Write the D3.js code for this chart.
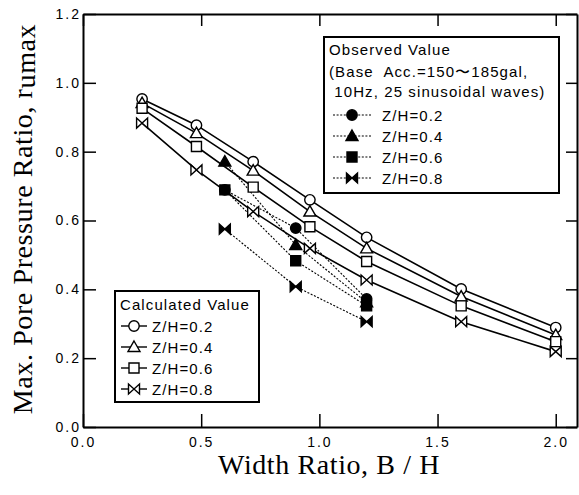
<!DOCTYPE html>
<meta charset="utf-8">
<style>
  body { margin: 0; background: #fff; }
  .tick text { font-family: "Liberation Sans", Arial, sans-serif; font-size: 14px; letter-spacing: 2px; }
  .lg { font-family: "Liberation Sans", Arial, sans-serif; font-size: 15px; letter-spacing: 1.1px; white-space: pre; }
  .title { font-family: "Liberation Serif", "Times New Roman", serif; font-size: 28px; letter-spacing: 0.6px; }
</style>
<body>
<div id="chart"></div>
<script src="https://d3js.org/d3.v7.min.js"></script>
<script>
// calculated values (solid lines, open markers)
var calcX = [0.25, 0.48, 0.72, 0.96, 1.2, 1.6, 2.0];
var calc02 = [0.953, 0.877, 0.771, 0.660, 0.551, 0.401, 0.289];
var calc04 = [0.941, 0.854, 0.745, 0.626, 0.519, 0.379, 0.267];
var calc06 = [0.926, 0.815, 0.697, 0.582, 0.481, 0.352, 0.248];
var calc08 = [0.883, 0.747, 0.626, 0.519, 0.427, 0.306, 0.219];

// observed values (dotted lines, filled markers)
var obsX = [0.6, 0.9, 1.2];
var obs02 = [0.689, 0.578, 0.372];
var obs04 = [0.771, 0.529, 0.362];
var obs06 = [0.689, 0.483, 0.352];
var obs08 = [0.575, 0.408, 0.306];

var labels = ["Z/H=0.2", "Z/H=0.4", "Z/H=0.6", "Z/H=0.8"];
var shapes = ["circle", "triangle", "square", "bowtie"];
var xTicks = [0.0, 0.5, 1.0, 1.5, 2.0];
var yTicks = [0.0, 0.2, 0.4, 0.6, 0.8, 1.0, 1.2];

var W = 579, H = 495;
var pL = 83, pR = 577, pT = 14, pB = 427;

var svg = d3.select("#chart").append("svg")
    .attr("width", W).attr("height", H);

var x = d3.scaleLinear().domain([0, 2.09]).range([pL, pR]);
var y = d3.scaleLinear().domain([0, 1.2]).range([pB, pT]);

// axes, ticks pointing inward
svg.append("g").attr("transform", "translate(0," + pB + ")")
  .call(d3.axisBottom(x).tickValues(xTicks).tickFormat(d3.format(".1f")).tickSizeInner(-13).tickSizeOuter(0).tickPadding(10));
svg.append("g").attr("class", "yax").attr("transform", "translate(" + pL + ",0)")
  .call(d3.axisLeft(y).tickValues(yTicks).tickFormat(d3.format(".1f")).tickSizeInner(-13).tickSizeOuter(0).tickPadding(3));
svg.append("g").attr("transform", "translate(0," + pT + ")")
  .call(d3.axisTop(x).tickValues(xTicks).tickFormat("").tickSizeInner(-12).tickSizeOuter(0));
svg.append("g").attr("transform", "translate(" + pR + ",0)")
  .call(d3.axisRight(y).tickValues(yTicks).tickFormat("").tickSizeInner(-11).tickSizeOuter(0));
svg.selectAll(".domain").attr("stroke", "#000").attr("stroke-width", 2);
svg.selectAll(".tick line").attr("stroke", "#000").attr("stroke-width", 1.5);
svg.selectAll(".tick text").attr("fill", "#000");
svg.selectAll(".yax .tick text").attr("dx", "1px");

function markerPath(shape) {
  if (shape === "circle") return d3.symbol().type(d3.symbolCircle).size(85)();
  if (shape === "triangle") return "M0,-6L6,4.5L-6,4.5Z";
  if (shape === "square") return "M-5,-5L5,-5L5,5L-5,5Z";
  return "M-5.5,-5L-5.5,5L5.5,-5L5.5,5Z";
}

function drawMarker(g, shape, px, py, filled) {
  g.append("path")
    .attr("d", markerPath(shape))
    .attr("transform", "translate(" + px + "," + py + ")")
    .attr("fill", filled ? "#000" : "#fff")
    .attr("stroke", "#000")
    .attr("stroke-width", 1.4);
}

var line = d3.line().x(function(d) { return x(d[0]); }).y(function(d) { return y(d[1]); });

// observed: dotted lines
var obsSeries = [obs02, obs04, obs06, obs08];
obsSeries.forEach(function(s) {
  svg.append("path").datum(obsX.map(function(v, i) { return [v, s[i]]; }))
    .attr("d", line).attr("fill", "none").attr("stroke", "#000")
    .attr("stroke-width", 1.1).attr("stroke-dasharray", "2,1.6");
});

// calculated: solid lines
var calcSeries = [calc02, calc04, calc06, calc08];
calcSeries.forEach(function(s) {
  svg.append("path").datum(calcX.map(function(v, i) { return [v, s[i]]; }))
    .attr("d", line).attr("fill", "none").attr("stroke", "#000").attr("stroke-width", 1.6);
});

var mk = svg.append("g");
calcSeries.forEach(function(s, k) {
  calcX.forEach(function(v, i) { drawMarker(mk, shapes[k], x(v), y(s[i]), false); });
});
// z/h=0.2 observed goes first so the square covers it at 0.6
obsSeries.forEach(function(s, k) {
  obsX.forEach(function(v, i) { drawMarker(mk, shapes[k], x(v), y(s[i]), true); });
});

// observed legend
var lg1 = svg.append("g");
lg1.append("rect").attr("x", 324).attr("y", 37).attr("width", 235).attr("height", 156)
  .attr("fill", "#fff").attr("stroke", "#000").attr("stroke-width", 2);
lg1.append("text").attr("class", "lg").attr("x", 329).attr("y", 55).text("Observed Value");
lg1.append("text").attr("class", "lg").attr("x", 329).attr("y", 77).text("(Base  Acc.=150\u301c185gal,");
lg1.append("text").attr("class", "lg").attr("x", 329).attr("y", 97).text(" 10Hz, 25 sinusoidal waves)");
labels.forEach(function(l, k) {
  var cy = 115 + k * 21;
  lg1.append("line").attr("x1", 333).attr("x2", 371).attr("y1", cy).attr("y2", cy)
    .attr("stroke", "#000").attr("stroke-width", 1.1).attr("stroke-dasharray", "2,1.6");
  drawMarker(lg1, shapes[k], 352, cy, true);
  lg1.append("text").attr("class", "lg").attr("x", 382).attr("y", cy + 5.5).text(l);
});

// calculated legend
var lg2 = svg.append("g");
lg2.append("rect").attr("x", 115).attr("y", 291).attr("width", 144).attr("height", 111)
  .attr("fill", "#fff").attr("stroke", "#000").attr("stroke-width", 2);
lg2.append("text").attr("class", "lg").attr("x", 120).attr("y", 310).text("Calculated Value");
labels.forEach(function(l, k) {
  var cy = 326 + k * 21;
  lg2.append("line").attr("x1", 121).attr("x2", 147).attr("y1", cy).attr("y2", cy)
    .attr("stroke", "#000").attr("stroke-width", 1.4);
  drawMarker(lg2, shapes[k], 134, cy, false);
  lg2.append("text").attr("class", "lg").attr("x", 152).attr("y", cy + 5.5).text(l);
});

// axis titles
svg.append("text").attr("class", "title").attr("text-anchor", "middle")
  .attr("x", 329).attr("y", 474).text("Width Ratio, B / H");
var yt = svg.append("text").attr("class", "title").attr("text-anchor", "middle")
  .attr("transform", "translate(32,219) rotate(-90)");
yt.append("tspan").text("Max. Pore Pressure Ratio, r");
yt.append("tspan").attr("dy", 3).text("umax");
</script>
</body>
